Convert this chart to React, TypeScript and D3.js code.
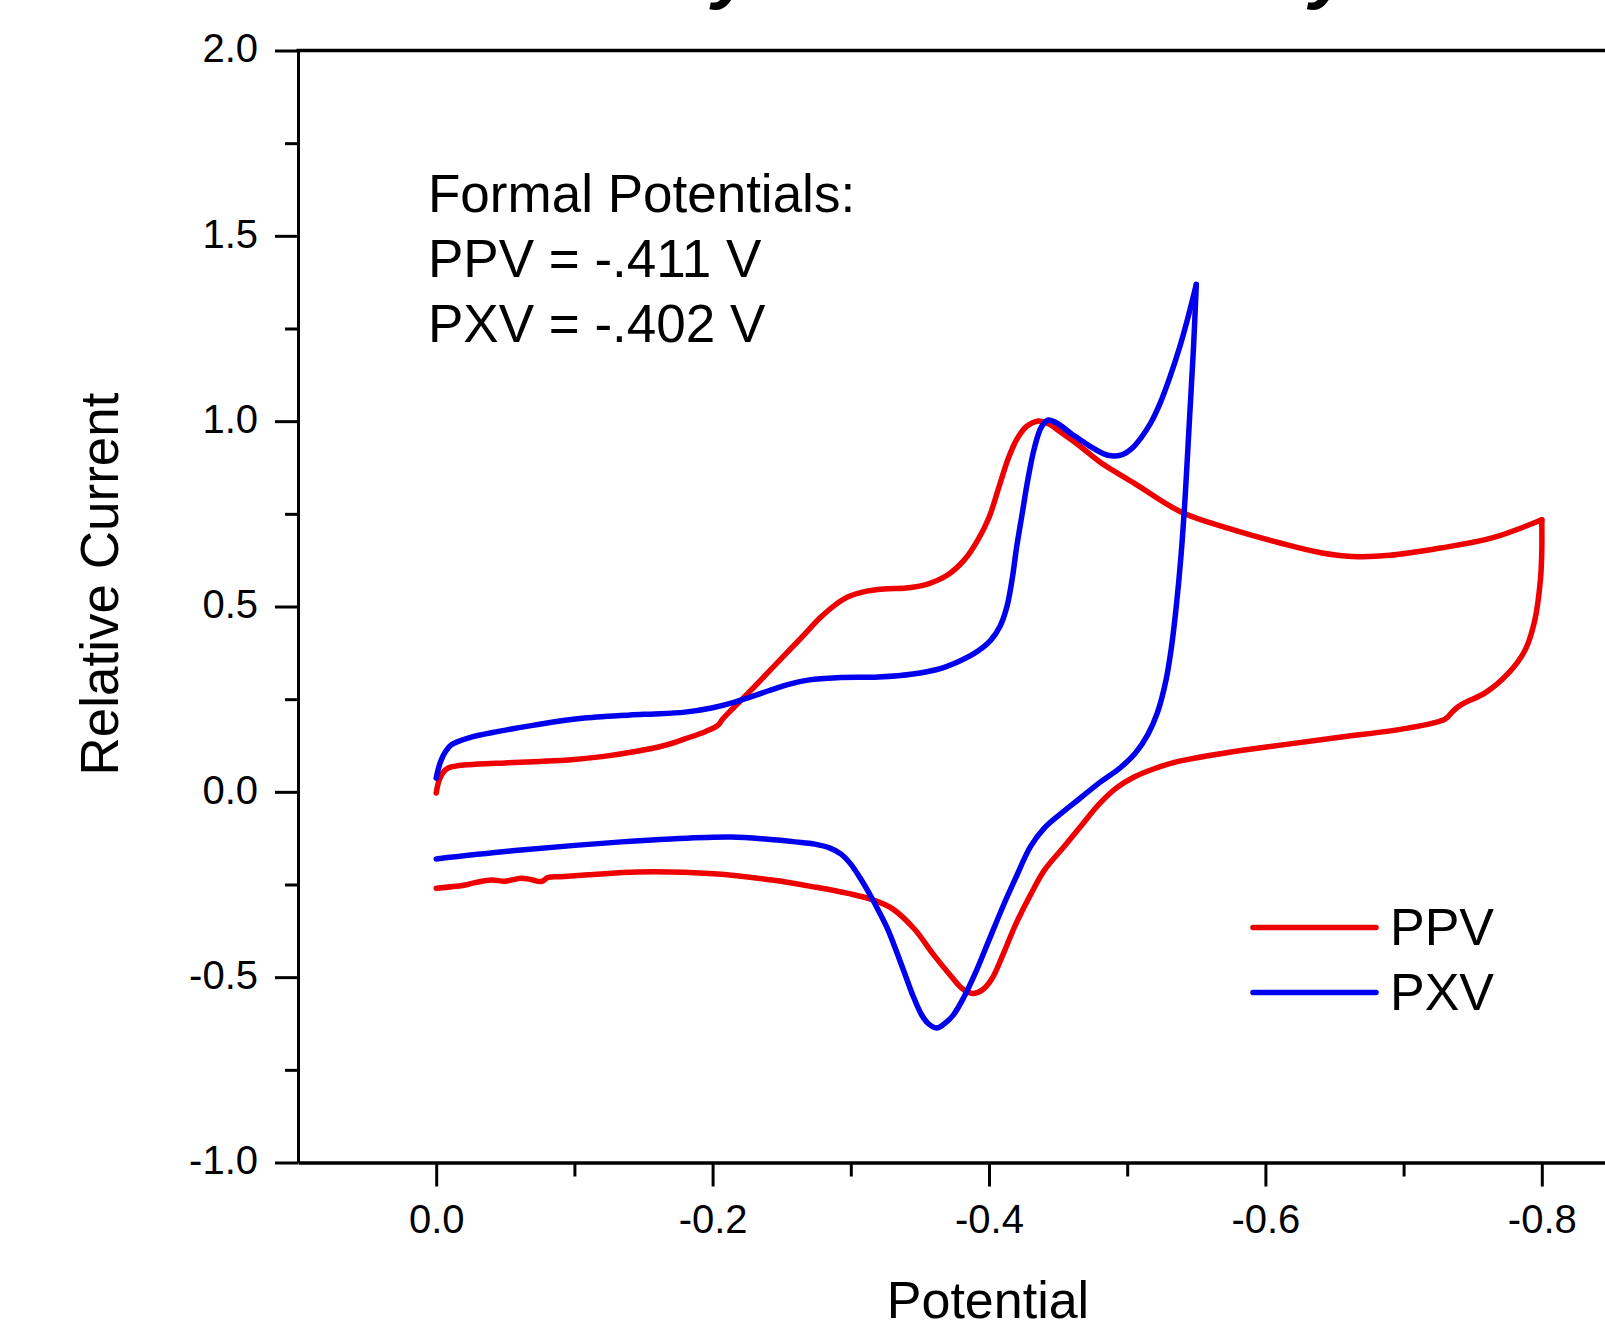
import { useEffect, useRef } from 'react'
import * as d3 from 'd3'

// [potential (V), relative current]
const ppvForward: [number, number][] = [
  [0.0, -0.003], [-0.002, 0.03], [-0.005, 0.052], [-0.009, 0.065], [-0.015, 0.07],
  [-0.023, 0.073], [-0.05, 0.078], [-0.075, 0.082], [-0.096, 0.086], [-0.12, 0.095],
  [-0.143, 0.108], [-0.165, 0.125], [-0.18, 0.143], [-0.195, 0.163], [-0.204, 0.18],
  [-0.207, 0.195], [-0.212, 0.215], [-0.228, 0.275], [-0.246, 0.345], [-0.264, 0.415],
  [-0.278, 0.47], [-0.289, 0.505], [-0.298, 0.526], [-0.31, 0.54], [-0.324, 0.547],
  [-0.34, 0.55], [-0.355, 0.56], [-0.37, 0.585], [-0.382, 0.625], [-0.392, 0.68],
  [-0.4, 0.74], [-0.407, 0.82], [-0.414, 0.9], [-0.42, 0.95], [-0.427, 0.985],
  [-0.435, 1.0], [-0.443, 0.993], [-0.452, 0.97], [-0.465, 0.935], [-0.481, 0.888],
  [-0.505, 0.833], [-0.539, 0.755], [-0.574, 0.71], [-0.61, 0.672], [-0.64, 0.645],
  [-0.663, 0.635], [-0.69, 0.638], [-0.727, 0.658], [-0.764, 0.685], [-0.8, 0.734],
]

const ppvReverse: [number, number][] = [
  [-0.8, 0.734], [-0.8, 0.65], [-0.799, 0.572], [-0.795, 0.464], [-0.788, 0.383],
  [-0.776, 0.321], [-0.759, 0.267], [-0.744, 0.24], [-0.739, 0.228], [-0.735, 0.215],
  [-0.73, 0.196], [-0.703, 0.172], [-0.655, 0.148], [-0.611, 0.126], [-0.574, 0.107],
  [-0.537, 0.082], [-0.52, 0.063], [-0.505, 0.04], [-0.492, 0.01], [-0.48, -0.032],
  [-0.467, -0.09], [-0.455, -0.145], [-0.44, -0.212], [-0.43, -0.278], [-0.419, -0.36],
  [-0.41, -0.44], [-0.402, -0.505], [-0.395, -0.535], [-0.388, -0.544], [-0.381, -0.532],
  [-0.372, -0.495], [-0.36, -0.44], [-0.346, -0.37], [-0.33, -0.315], [-0.315, -0.29],
  [-0.298, -0.274], [-0.274, -0.257], [-0.243, -0.238], [-0.201, -0.221], [-0.146, -0.216],
  [-0.11, -0.224], [-0.09, -0.229], [-0.081, -0.231], [-0.076, -0.242], [-0.069, -0.237],
  [-0.0615, -0.233], [-0.05, -0.241], [-0.04, -0.238], [-0.028, -0.245], [-0.02, -0.252],
  [0.0, -0.26],
]

const pxvForward: [number, number][] = [
  [0.0, 0.037], [-0.003, 0.08], [-0.007, 0.11], [-0.011, 0.127], [-0.023, 0.145],
  [-0.045, 0.163], [-0.071, 0.18], [-0.107, 0.199], [-0.15, 0.209], [-0.18, 0.215],
  [-0.2, 0.227], [-0.216, 0.242], [-0.24, 0.272], [-0.255, 0.29], [-0.27, 0.302],
  [-0.29, 0.308], [-0.32, 0.31], [-0.345, 0.318], [-0.366, 0.334], [-0.38, 0.355],
  [-0.392, 0.38], [-0.401, 0.408], [-0.408, 0.447], [-0.413, 0.5], [-0.417, 0.58],
  [-0.42, 0.66], [-0.424, 0.75], [-0.428, 0.84], [-0.433, 0.93], [-0.438, 0.985],
  [-0.443, 1.003], [-0.449, 0.995], [-0.46, 0.965], [-0.472, 0.935], [-0.486, 0.908],
  [-0.496, 0.909], [-0.503, 0.925], [-0.51, 0.955], [-0.517, 0.995], [-0.524, 1.05],
  [-0.531, 1.12], [-0.538, 1.2], [-0.544, 1.28], [-0.55, 1.369],
]

const pxvReverse: [number, number][] = [
  [-0.55, 1.369], [-0.548, 1.2], [-0.545, 1.0], [-0.542, 0.8], [-0.539, 0.64],
  [-0.5355, 0.5], [-0.532, 0.39], [-0.528, 0.3], [-0.522, 0.215], [-0.515, 0.155],
  [-0.506, 0.105], [-0.495, 0.065], [-0.48, 0.025], [-0.465, -0.02], [-0.45, -0.065],
  [-0.44, -0.098], [-0.43, -0.148], [-0.419, -0.235], [-0.41, -0.31], [-0.4, -0.4],
  [-0.39, -0.49], [-0.382, -0.553], [-0.374, -0.603], [-0.367, -0.628], [-0.362, -0.637],
  [-0.356, -0.625], [-0.351, -0.6], [-0.345, -0.55], [-0.339, -0.49], [-0.333, -0.43],
  [-0.327, -0.373], [-0.32, -0.32], [-0.315, -0.285], [-0.308, -0.24], [-0.3, -0.195],
  [-0.293, -0.168], [-0.285, -0.152], [-0.274, -0.141], [-0.26, -0.135], [-0.24, -0.128],
  [-0.2135, -0.122], [-0.17, -0.127], [-0.134, -0.135], [-0.0615, -0.157], [0.0, -0.181],
]

const xMajor = [0, -0.2, -0.4, -0.6, -0.8]
const xMinor = [-0.1, -0.3, -0.5, -0.7]
const yMajor = [-1, -0.5, 0, 0.5, 1, 1.5, 2]
const yMinor = [-0.75, -0.25, 0.25, 0.75, 1.25, 1.75]

const seriesNames = ['PPV', 'PXV']
const seriesColors = ['#ee0000', '#0000ee']
const noteLines = ['Formal Potentials:', 'PPV = -.411 V', 'PXV = -.402 V']

const FONT = '"Liberation Sans", Arial, Helvetica, sans-serif'

const App = () => {
  const chartRef = useRef<SVGSVGElement | null>(null)

  useEffect(() => {
    const width = 1605
    const height = 1329
    d3.select(chartRef.current).selectAll('*').remove()

    const svg = d3.select(chartRef.current)
      .attr('width', width)
      .attr('height', height)

    const x = d3.scaleLinear().domain([0.1, -0.9]).range([298, 1680])
    const y = d3.scaleLinear().domain([-1, 2]).range([1162.5, 50.5])
    const fmt = (d: number) => d.toFixed(1)

    svg.append('rect').attr('width', width).attr('height', height).attr('fill', '#fff')

    // title, mostly cut off at the top of the figure
    svg.append('text')
      .attr('x', 1005)
      .attr('y', -5)
      .attr('text-anchor', 'middle')
      .attr('font-family', FONT)
      .attr('font-weight', 'bold')
      .attr('font-style', 'italic')
      .attr('font-size', 75)
      .text('Cyclic Voltammetry')

    // bottom axis
    const gx = svg.append('g')
      .attr('transform', `translate(0,${y(-1)})`)
      .call(d3.axisBottom(x).tickValues(xMajor).tickSize(24).tickSizeOuter(0).tickPadding(18).tickFormat(fmt as any))
    svg.append('g')
      .attr('transform', `translate(0,${y(-1)})`)
      .call(d3.axisBottom(x).tickValues(xMinor).tickSize(14).tickSizeOuter(0).tickFormat(() => ''))
      .call(g => g.select('.domain').remove())

    // left axis
    const gy = svg.append('g')
      .attr('transform', `translate(${x(0.1)},0)`)
      .call(d3.axisLeft(y).tickValues(yMajor).tickSize(23).tickSizeOuter(0).tickPadding(17).tickFormat(fmt as any))
    svg.append('g')
      .attr('transform', `translate(${x(0.1)},0)`)
      .call(d3.axisLeft(y).tickValues(yMinor).tickSize(13).tickSizeOuter(0).tickFormat(() => ''))
      .call(g => g.select('.domain').remove())

    svg.selectAll('g .tick line').attr('stroke', '#000').attr('stroke-width', 3)
    gx.select('.domain').attr('stroke', '#000').attr('stroke-width', 3.5)
    gy.select('.domain').attr('stroke', '#000').attr('stroke-width', 3)
    ;[gx, gy].forEach(g => {
      g.attr('font-size', 40).attr('font-family', FONT)
      g.selectAll('text').attr('fill', '#000')
    })
    gy.selectAll('text').attr('dy', '0.28em')

    // top frame line
    svg.append('line')
      .attr('x1', x(0.1) - 1.5).attr('x2', x(-0.9))
      .attr('y1', y(2)).attr('y2', y(2))
      .attr('stroke', '#000').attr('stroke-width', 3.5)

    // axis titles
    svg.append('text')
      .attr('x', 988).attr('y', 1318)
      .attr('text-anchor', 'middle')
      .attr('font-family', FONT).attr('font-size', 52)
      .text('Potential')
    svg.append('text')
      .attr('transform', 'translate(118,584) rotate(-90)')
      .attr('text-anchor', 'middle')
      .attr('font-family', FONT).attr('font-size', 53)
      .text('Relative Current')

    // curves
    const line = d3.line<[number, number]>()
      .x(d => x(d[0]))
      .y(d => y(d[1]))
      .curve(d3.curveCatmullRom.alpha(0.5))

    const curves = [[ppvForward, ppvReverse], [pxvForward, pxvReverse]]
    curves.forEach((sweeps, i) => {
      sweeps.forEach(s => {
        svg.append('path')
          .attr('d', line(s) as string)
          .attr('fill', 'none')
          .attr('stroke', seriesColors[i])
          .attr('stroke-width', 5.5)
          .attr('stroke-linejoin', 'round')
          .attr('stroke-linecap', 'round')
      })
    })

    // annotation
    svg.append('g')
      .selectAll('text')
      .data(noteLines)
      .enter()
      .append('text')
      .attr('x', 428)
      .attr('y', (d, i) => 211.5 + i * 65)
      .attr('font-family', FONT)
      .attr('font-size', 53)
      .text(d => d)

    // legend
    const legend = svg.append('g')
    seriesNames.forEach((name, i) => {
      const ly = 927.5 + i * 65
      legend.append('line')
        .attr('x1', 1253).attr('x2', 1376)
        .attr('y1', ly).attr('y2', ly)
        .attr('stroke', seriesColors[i])
        .attr('stroke-width', 5.5)
        .attr('stroke-linecap', 'round')
      legend.append('text')
        .attr('x', 1390).attr('y', ly + 17.5)
        .attr('font-family', FONT).attr('font-size', 52)
        .text(name)
    })
  }, [])

  return (
    <svg ref={chartRef} style={{ position: 'absolute', left: 0, top: 0, display: 'block' }}></svg>
  )
}

export default App
